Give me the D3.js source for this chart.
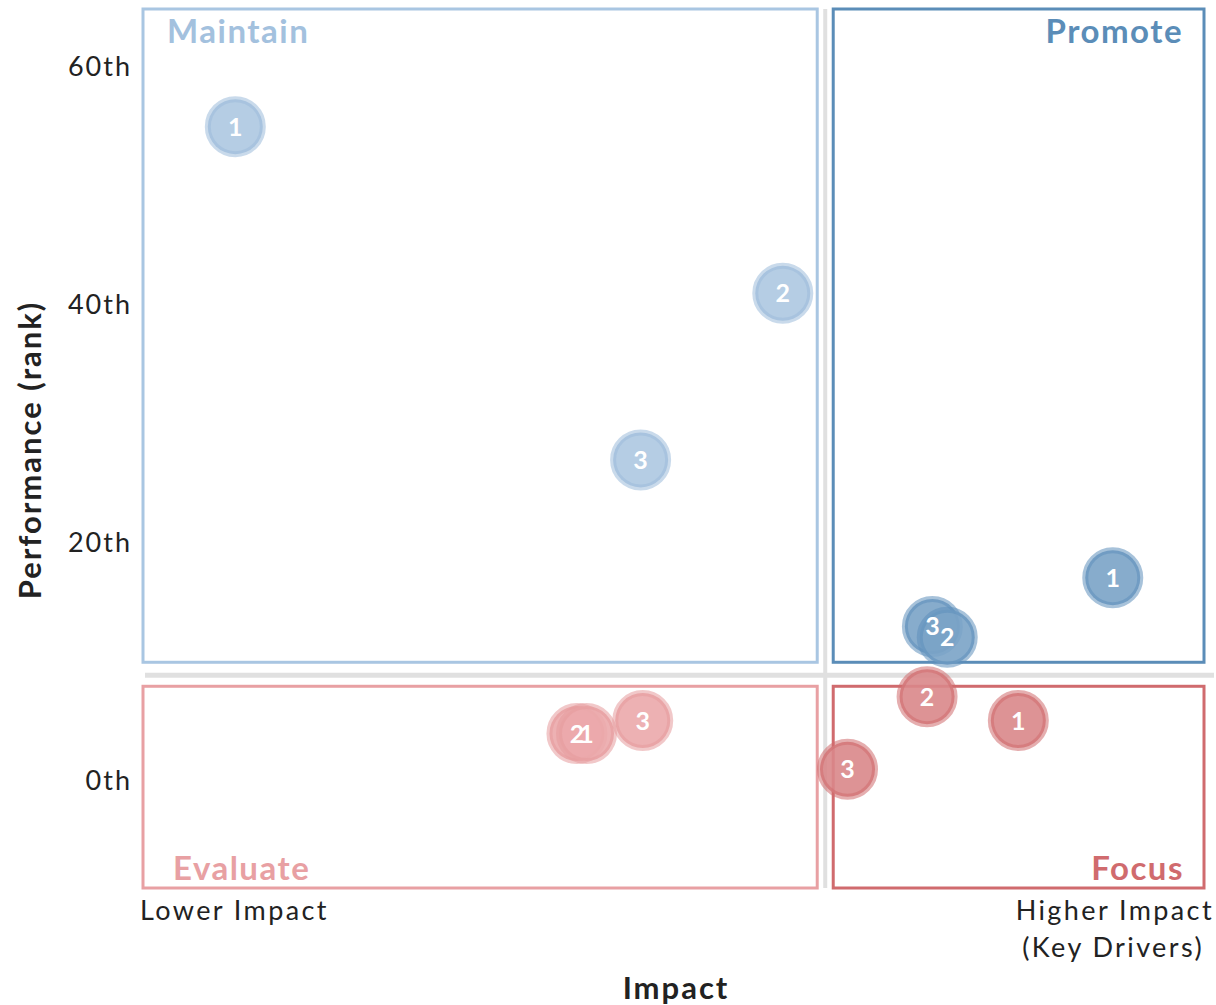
<!DOCTYPE html>
<html><head><meta charset="utf-8">
<script src="https://cdn.jsdelivr.net/npm/d3@7"></script>
<style>body{margin:0;background:#fff}svg{display:block}text{font-family:Lato,"Open Sans",sans-serif}</style>
</head><body>
<svg id="c" width="1216" height="1005"></svg>
<script>
// Data
const quadrants = ["Maintain", "Promote", "Evaluate", "Focus"];
const maintainIds = ["1", "2", "3"];
const maintainImpact = [0.087, 0.603, 0.469];
const maintainRank = [54.9, 40.9, 26.9];
const promoteIds = ["1", "3", "2"];
const promoteImpact = [0.914, 0.744, 0.758];
const promoteRank = [17.0, 12.9, 12.0];
const focusIds = ["2", "1", "3"];
const focusImpact = [0.739, 0.825, 0.664];
const focusRank = [7.0, 5.0, 0.9];
const evaluateIds = ["2", "1", "3"];
const evaluateImpact = [0.409, 0.418, 0.471];
const evaluateRank = [3.9, 3.9, 5.0];
const yTicks = [0, 20, 40, 60];
const yTickLabels = ["0th", "20th", "40th", "60th"];
const impactSplit = 0.643;
const rankSplit = 8.8;
const xEndLabels = ["Lower Impact", ["Higher Impact", "(Key Drivers)"]];

const colors = {
  Maintain: {box: "#a9c6e2", fill: "#adc8e1", stroke: "#9cbcdb", text: "#a3c1de"},
  Promote: {box: "#5b8db8", fill: "#7aa3c6", stroke: "#5f90bb", text: "#5b8db8"},
  Evaluate: {box: "#e8a0a3", fill: "#eba9ab", stroke: "#e59a9d", text: "#e8a0a3"},
  Focus: {box: "#d06b6e", fill: "#d9878a", stroke: "#d06b6e", text: "#d06b6e"}
};

const svg = d3.select("#c");
const x = d3.scaleLinear().domain([0, 1]).range([143, 1204]);
const y = d3.scaleLinear().domain([0, 60]).range([780, 66]);
const yTop = y.invert(9), yBot = y.invert(888);

// dividers
const xs = x(impactSplit), ys = y(rankSplit);
svg.append("line").attr("x1", xs).attr("x2", xs).attr("y1", y(yTop)).attr("y2", y(yBot))
  .attr("stroke", "#e0e0e0").attr("stroke-width", 4);
svg.append("line").attr("x1", x(0) + 2).attr("x2", x(1) + 10).attr("y1", ys).attr("y2", ys)
  .attr("stroke", "#e0e0e0").attr("stroke-width", 5);

// boxes
const gapX = 8, gapTop = 13, gapBot = 11;
const boxes = [
  {q: "Maintain", x0: x(0), x1: xs - gapX, y0: y(yTop), y1: ys - gapTop},
  {q: "Promote", x0: xs + gapX, x1: x(1), y0: y(yTop), y1: ys - gapTop},
  {q: "Evaluate", x0: x(0), x1: xs - gapX, y0: ys + gapBot, y1: y(yBot)},
  {q: "Focus", x0: xs + gapX, x1: x(1), y0: ys + gapBot, y1: y(yBot)}
];
svg.selectAll("rect.box").data(boxes).join("rect").attr("class", "box")
  .attr("x", d => d.x0).attr("y", d => d.y0).attr("width", d => d.x1 - d.x0).attr("height", d => d.y1 - d.y0)
  .attr("fill", "none").attr("stroke", d => colors[d.q].box).attr("stroke-width", 3);

// quadrant labels
const ql = [
  {q: "Maintain", x: boxes[0].x0 + 24, y: 43, anchor: "start"},
  {q: "Promote", x: boxes[1].x1 - 21, y: 43, anchor: "end"},
  {q: "Evaluate", x: boxes[2].x0 + 30, y: 880, anchor: "start"},
  {q: "Focus", x: boxes[3].x1 - 20, y: 880, anchor: "end"}
];
svg.selectAll("text.ql").data(ql).join("text").attr("class", "ql")
  .attr("x", d => d.x).attr("y", d => d.y).attr("text-anchor", d => d.anchor)
  .attr("font-size", 33).attr("letter-spacing", 1.5).attr("font-weight", "bold")
  .attr("fill", d => colors[d.q].text).text(d => d.q);

// y axis tick labels
const yAxis = d3.axisLeft(y).tickValues(yTicks).tickFormat((d, i) => yTickLabels[i]).tickSize(0).tickPadding(0);
const ga = svg.append("g").attr("transform", "translate(132,0)").call(yAxis);
ga.select(".domain").remove();
ga.selectAll("text").attr("font-size", 27).attr("letter-spacing", 2).attr("fill", "#222")
  .attr("font-family", "Lato,'Open Sans',sans-serif").attr("dy", "0.36em");

// axis titles
svg.append("text").attr("transform", "translate(41,450) rotate(-90)").attr("text-anchor", "middle")
  .attr("font-size", 31).attr("letter-spacing", 2).attr("font-weight", "bold").attr("fill", "#222").text("Performance (rank)");
svg.append("text").attr("x", 676).attr("y", 999).attr("text-anchor", "middle")
  .attr("font-size", 31).attr("letter-spacing", 2).attr("font-weight", "bold").attr("fill", "#222").text("Impact");
const endAttrs = t => t.attr("font-size", 27).attr("letter-spacing", 2.4).attr("fill", "#222");
svg.append("text").attr("x", 140).attr("y", 920).call(endAttrs).text(xEndLabels[0]);
svg.append("text").attr("x", 1214).attr("y", 920).attr("text-anchor", "end").call(endAttrs).text(xEndLabels[1][0]);
svg.append("text").attr("x", 1204).attr("y", 957).attr("text-anchor", "end").call(endAttrs).text(xEndLabels[1][1]);

// points
function pts(q, ids, ix, rk) { return ids.map((id, i) => ({q, id, impact: ix[i], rank: rk[i]})); }
const points = [].concat(
  pts("Maintain", maintainIds, maintainImpact, maintainRank),
  pts("Evaluate", evaluateIds, evaluateImpact, evaluateRank),
  pts("Promote", promoteIds, promoteImpact, promoteRank),
  pts("Focus", focusIds, focusImpact, focusRank)
);
svg.append("g").selectAll("circle").data(points).join("circle")
  .attr("cx", d => x(d.impact)).attr("cy", d => y(d.rank))
  .attr("r", 27.5).attr("fill", d => colors[d.q].fill).attr("fill-opacity", 0.9)
  .attr("stroke", d => colors[d.q].stroke).attr("stroke-width", 6).attr("stroke-opacity", 0.55);
svg.append("g").selectAll("text").data(points).join("text")
  .attr("x", d => x(d.impact)).attr("y", d => y(d.rank))
  .attr("text-anchor", "middle").attr("dy", "0.36em").attr("font-size", 25)
  .attr("font-weight", "bold").attr("fill", "#fff").text(d => d.id);
</script>
</body></html>
